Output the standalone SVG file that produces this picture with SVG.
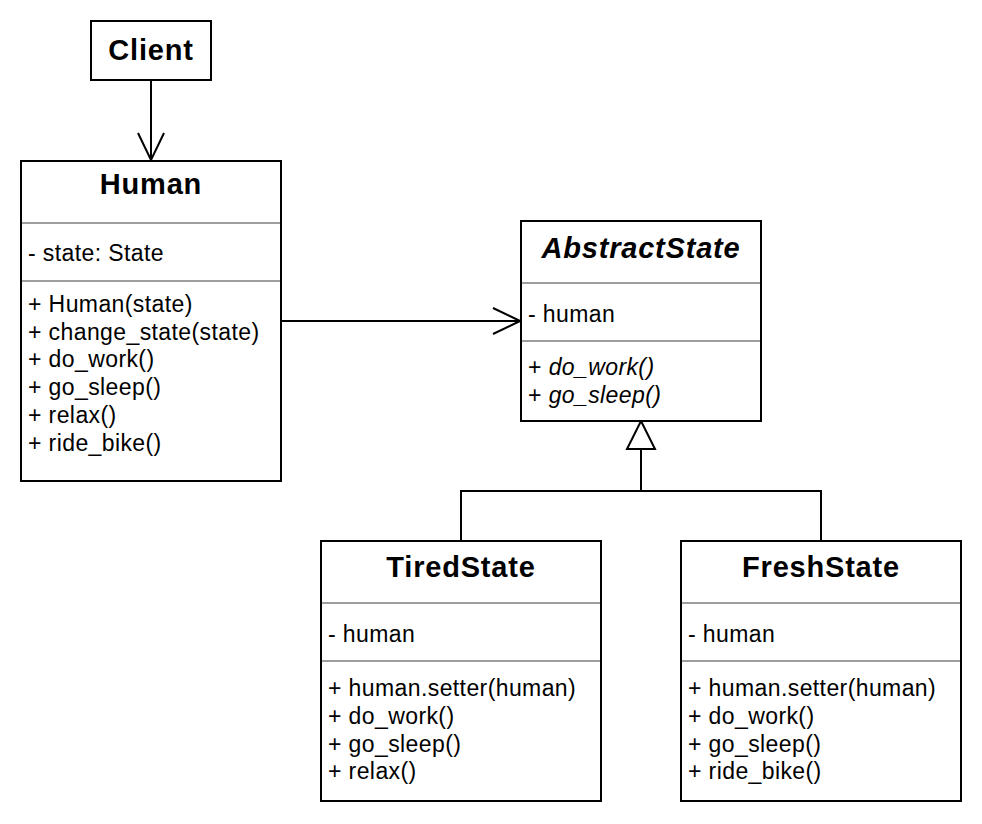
<svg xmlns="http://www.w3.org/2000/svg" width="982" height="824" viewBox="0 0 982 824">
<defs>
<style>
.box{fill:#fff;stroke:#000;stroke-width:2}
.div{stroke:#9e9e9e;stroke-width:2}
.t{font-family:"Liberation Sans",Arial,sans-serif;font-size:23px;letter-spacing:0.4px;fill:#000}
.h{font-family:"Liberation Sans",Arial,sans-serif;font-size:29px;font-weight:bold;letter-spacing:0.8px;fill:#000;text-anchor:middle}
.i{font-style:italic}
.c{fill:none;stroke:#000;stroke-width:2}
</style>
<marker id="open" viewBox="0 0 30 30" refX="28" refY="15" markerWidth="30" markerHeight="30" markerUnits="userSpaceOnUse" orient="auto">
<path d="M1,2 L28,15 L1,28" fill="none" stroke="#000" stroke-width="2"/>
</marker>
</defs>
<rect width="982" height="824" fill="#fff"/>
<g id="connectors">
<line class="c" x1="151" y1="80" x2="151" y2="160" marker-end="url(#open)"/>
<line class="c" x1="281" y1="321" x2="520" y2="321" marker-end="url(#open)"/>
<path class="c" d="M461,541 V491 H821 V541 M641,491 V449"/>
<path d="M641,421 L655,449 L627,449 Z" fill="#fff" stroke="#000" stroke-width="2"/>
</g>
<g id="client">
<rect class="box" x="91" y="21" width="120" height="59"/>
<text class="h" x="151" y="60">Client</text>
</g>
<g id="human">
<rect class="box" x="21" y="161" width="260" height="320"/>
<text class="h" x="151" y="194">Human</text>
<line class="div" x1="22" y1="223" x2="280" y2="223"/>
<text class="t" x="28" y="261">- state: State</text>
<line class="div" x1="22" y1="281" x2="280" y2="281"/>
<text class="t" x="28" y="312">+ Human(state)</text>
<text class="t" x="28" y="340">+ change_state(state)</text>
<text class="t" x="28" y="367">+ do_work()</text>
<text class="t" x="28" y="395">+ go_sleep()</text>
<text class="t" x="28" y="423">+ relax()</text>
<text class="t" x="28" y="451">+ ride_bike()</text>
</g>
<g id="abstractstate">
<rect class="box" x="521" y="221" width="240" height="200"/>
<text class="h i" x="641" y="258">AbstractState</text>
<line class="div" x1="522" y1="283" x2="760" y2="283"/>
<text class="t" x="528" y="322">- human</text>
<line class="div" x1="522" y1="341" x2="760" y2="341"/>
<text class="t" x="528" y="375"><tspan>+ </tspan><tspan class="i">do_work()</tspan></text>
<text class="t" x="528" y="403"><tspan>+ </tspan><tspan class="i">go_sleep()</tspan></text>
</g>
<g id="tiredstate">
<rect class="box" x="321" y="541" width="280" height="260"/>
<text class="h" x="461" y="577">TiredState</text>
<line class="div" x1="322" y1="603" x2="600" y2="603"/>
<text class="t" x="328" y="642">- human</text>
<line class="div" x1="322" y1="661" x2="600" y2="661"/>
<text class="t" x="328" y="696">+ human.setter(human)</text>
<text class="t" x="328" y="724">+ do_work()</text>
<text class="t" x="328" y="752">+ go_sleep()</text>
<text class="t" x="328" y="779">+ relax()</text>
</g>
<g id="freshstate">
<rect class="box" x="681" y="541" width="280" height="260"/>
<text class="h" x="821" y="577">FreshState</text>
<line class="div" x1="682" y1="603" x2="960" y2="603"/>
<text class="t" x="688" y="642">- human</text>
<line class="div" x1="682" y1="661" x2="960" y2="661"/>
<text class="t" x="688" y="696">+ human.setter(human)</text>
<text class="t" x="688" y="724">+ do_work()</text>
<text class="t" x="688" y="752">+ go_sleep()</text>
<text class="t" x="688" y="779">+ ride_bike()</text>
</g>
</svg>
